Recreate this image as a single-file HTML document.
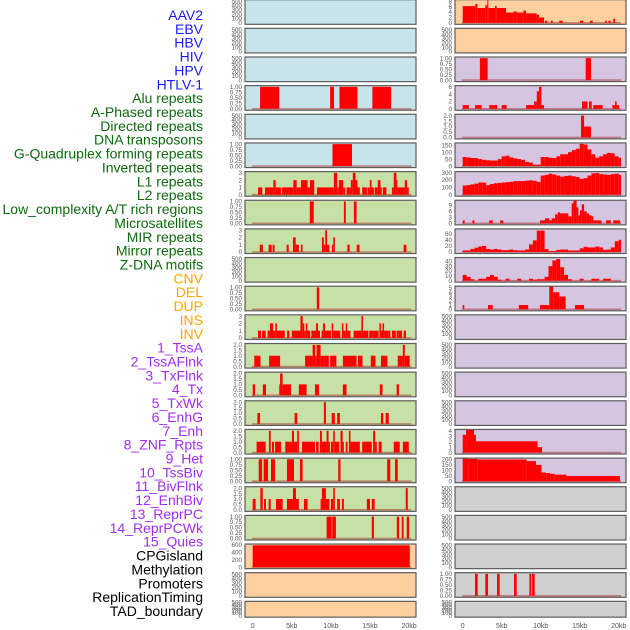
<!DOCTYPE html>
<html><head><meta charset="utf-8"><style>
html,body{margin:0;padding:0;background:#fff;}
svg{display:block;font-family:"Liberation Sans",sans-serif;}
</style></head><body>
<svg id="chart" width="630" height="630" viewBox="0 0 630 630" xmlns="http://www.w3.org/2000/svg"></svg>
<script>
// ---- labels ----
const labelNames = ["AAV2","EBV","HBV","HIV","HPV","HTLV-1","Alu repeats","A-Phased repeats","Directed repeats","DNA transposons","G-Quadruplex forming repeats","Inverted repeats","L1 repeats","L2 repeats","Low_complexity A/T rich regions","Microsatellites","MIR repeats","Mirror repeats","Z-DNA motifs","CNV","DEL","DUP","INS","INV","1_TssA","2_TssAFlnk","3_TxFlnk","4_Tx","5_TxWk","6_EnhG","7_Enh","8_ZNF_Rpts","9_Het","10_TssBiv","11_BivFlnk","12_EnhBiv","13_ReprPC","14_ReprPCWk","15_Quies","CPGisland","Methylation","Promoters","ReplicationTiming","TAD_boundary"];
const labelGroups = [6,13,5,15,5];
const groupColors = ["#1a1aff","#0b6b0b","#ffa500","#a12ef0","#000000"];
const xTickVals = [0,5,10,15,20];
const xTickLabels = ["0","5kb","10kb","15kb","20kb"];

// ---- left column data: [startKb, endKb, value] ----
const L3 = [[0.94,3.4,1],[9.9,10.4,1],[11.1,13.4,1],[15.3,17.7,1]];
const L5 = [[10.2,12.7,1]];
const L6 = [[0.68,1.23,1],[1.57,2.64,1],[2.64,2.94,2],[2.94,3.62,1],[3.74,5.19,1],[5.19,5.62,2],[5.62,6.17,1],[6.17,7.02,2],[7.02,7.32,1],[7.32,7.87,2],[8.21,10.38,1],[10.38,10.81,3],[10.81,11.02,1],[11.02,11.57,2],[11.57,11.83,1],[12.0,12.55,1],[12.55,12.8,2],[12.8,13.15,3],[13.15,13.4,2],[13.4,13.7,1],[14.0,14.6,1],[14.68,14.98,1],[14.98,15.2,2],[15.2,15.5,1],[15.6,16.0,1],[16.0,16.34,2],[16.34,16.5,1],[16.64,17.1,1],[17.8,18.04,1],[18.04,18.38,3],[18.38,18.5,2],[18.5,18.9,1],[18.9,19.45,1],[19.45,19.74,2],[19.74,19.96,1]];
const L7 = [[7.3,7.8,1],[11.66,11.9,1],[12.94,13.28,1]];
const L8 = [[0.9,1.3,1],[2.04,2.43,1],[2.55,2.8,1],[4.34,4.6,1],[5.15,5.5,2],[5.5,5.9,1],[6.17,6.38,1],[8.85,9.1,2],[9.1,9.28,1],[9.28,9.5,3],[9.5,9.8,1],[10.13,10.3,1],[10.3,10.5,2],[12.1,12.4,1],[13.3,13.66,1],[19.3,19.66,1]];
const L10 = [[8.2,8.5,1]];
const L11 = [[0.68,1.06,1],[1.2,1.66,1],[1.9,2.2,1],[2.2,2.6,2],[2.6,2.9,1],[2.9,3.1,2],[3.1,4.1,1],[4.4,4.7,1],[5.0,6.1,1],[6.1,6.4,3],[6.4,6.6,2],[6.6,6.8,1],[6.8,7.0,2],[7.0,7.35,1],[7.5,8.1,1],[8.1,8.35,2],[8.35,8.6,1],[8.8,9.0,1],[9.0,9.25,2],[9.25,10.0,1],[10.1,10.3,2],[10.3,11.2,1],[11.4,11.6,2],[11.6,11.9,1],[11.9,12.1,2],[12.1,12.5,1],[12.9,13.9,1],[13.9,14.1,3],[14.1,14.8,1],[14.9,15.3,1],[15.3,16.1,1],[16.2,16.4,2],[16.4,16.6,1],[16.6,16.8,2],[16.8,17.4,1],[17.4,17.6,1],[17.8,18.3,1],[18.4,18.6,1],[18.6,19.1,1],[19.3,19.6,1]];
const L12 = [[0.2,1.0,1],[2.1,3.5,1],[6.7,7.66,1],[7.66,8.0,2],[8.0,8.17,1],[8.17,8.68,2],[8.68,9.23,1],[9.23,9.74,1],[9.9,10.7,1],[11.53,13.28,1],[13.45,14.04,1],[15.1,15.7,1],[16.4,17.23,1],[18.55,19.2,1],[19.2,19.45,2],[19.45,20.08,1]];
const L13 = [[0,0.3,1],[1.3,1.7,1],[3.5,3.83,2],[3.4,3.5,1],[3.83,4.9,1],[5.9,6.9,1],[7.96,8.47,1],[11.53,12.0,1],[16.26,16.6,1],[18.4,18.7,1]];
const L14 = [[0.6,0.94,1],[5.36,5.7,1],[9.1,9.36,2],[10.1,10.5,1],[10.8,11.15,1],[16.4,16.7,1],[17.0,17.4,1]];
const L15 = [[0.5,1.66,1],[2.08,2.3,2],[2.47,2.72,1],[2.85,3.62,1],[4.17,5.02,1],[5.02,5.28,2],[5.28,5.7,1],[5.7,5.91,2],[6.3,7.96,1],[8.1,8.43,1],[8.6,8.85,2],[8.85,9.45,1],[9.45,9.7,2],[9.7,9.87,1],[10.0,10.3,1],[10.3,10.5,2],[10.5,11.06,1],[11.23,11.5,2],[11.5,11.66,1],[11.9,12.13,1],[12.3,12.5,2],[12.5,13.7,1],[14.0,15.23,1],[15.4,15.66,2],[15.66,15.87,1],[16.1,16.5,1],[18.04,18.8,1],[19.2,19.96,1]];
const L16 = [[0.77,1.2,1],[1.4,1.96,1],[2.34,2.85,1],[4.38,5.28,1],[6.04,6.38,1],[10.94,11.23,1],[17.2,17.6,1],[18.2,18.55,1]];
const L17 = [[0,0.38,1],[0.98,1.28,2],[1.45,1.7,1],[2.04,2.3,1],[2.98,3.83,1],[4.38,5.15,1],[5.15,5.53,2],[5.53,5.9,1],[6.55,7.02,1],[8.68,8.85,1],[8.85,9.36,2],[9.36,9.8,1],[10.0,10.3,1],[10.3,10.5,2],[10.8,11.15,1],[11.4,11.66,1],[14.6,15.0,1],[15.23,15.6,1],[19.57,19.83,2]];
const L18 = [[9.45,10.1,1],[10.17,10.64,1],[15.23,15.5,1],[18.43,18.72,1],[19.06,19.3,1],[19.7,20.0,1]];
const L19 = [[0,20.0,590],[20.0,20.08,580]];

// ---- right column data ----
const R0 = [[0,1.62,6.2],[1.62,1.88,7],[1.88,2.9,5.5],[2.9,3.16,6.5],[3.16,3.29,8.5],[3.29,4.15,5.5],[4.15,4.36,6.3],[4.36,5.56,5.5],[5.56,6.5,3.8],[6.5,6.92,4.2],[6.92,7.78,3.8],[7.78,8.12,4.5],[8.12,9.49,3.5],[9.49,9.79,3],[9.79,10.43,2],[10.56,10.85,0.8],[11.32,11.54,0.8],[12.39,12.82,0.8],[15.04,15.47,0.8],[16.32,16.67,0.8],[18.25,18.46,0.8],[18.68,18.97,0.8],[19.3,19.53,1.5]];
const R2 = [[2.2,3.2,1],[15.77,16.45,1]];
const R3 = [[0,0.8,1],[1.58,2.44,1],[3.4,4.44,1],[5.0,5.64,1],[8.12,9.15,1],[9.15,9.5,2],[9.5,9.79,4.8],[9.79,10.09,6],[10.09,10.43,1],[15.3,16.0,2],[16.2,16.54,2],[16.75,17.95,1],[19.19,19.53,1],[19.53,19.74,2],[19.74,20.04,1]];
const R4 = [[15.17,15.56,2],[15.56,16.45,1]];
// 0.5 kb bins
const R5 = [65,62,58,57,50,45,42,40,40,50,70,75,62,55,50,45,30,25,10,10,65,65,60,58,70,85,85,100,115,125,160,155,120,85,60,70,85,95,92,70,60];
const R6 = [125,130,140,150,165,165,130,145,155,160,165,170,175,185,185,185,190,195,190,175,260,270,285,275,260,245,255,260,250,240,215,225,260,290,295,280,275,270,280,285,270];
const R7 = [[0,0.25,1.5],[1.25,1.5,1.5],[3.4,3.85,1.5],[4.8,5.2,1.5],[9.91,10.55,1.5],[10.55,11.1,2.5],[11.1,11.4,1.5],[11.4,11.84,2.5],[11.84,12.18,4.5],[12.18,12.48,5.5],[12.48,13.55,5],[13.55,13.97,3.5],[13.97,14.19,10],[14.19,14.6,12],[14.6,14.83,8],[14.83,15.04,4],[15.04,15.26,6.5],[15.26,15.56,9.5],[15.56,15.9,6],[15.9,16.2,5],[16.2,16.54,4],[16.54,16.75,3.5],[16.75,17.8,1.5],[18.37,19.0,1.5],[19.3,20.16,1.5]];
const R8 = [5,5,10,14,18,20,10,8,10,8,6,6,8,6,5,5,8,25,38,70,70,10,3,3,7,8,8,5,5,5,12,17,15,15,18,15,7,8,15,35,40];
const R9 = [12,8,3,0,4,4,8,12,8,2,0,4,0,0,4,0,0,4,2,3,3,8,30,42,45,28,12,3,0,0,4,0,0,4,4,0,4,4,0,0,0];
const R10 = [[0,0.2,1],[3.25,3.85,1],[7.2,8.4,1],[9.9,11.1,1],[11.1,11.6,5.5],[11.6,12.4,4],[12.4,13.2,3],[14.4,15.56,1]];
const R15 = [[0,0.43,3.3],[0.43,1.45,4.2],[1.45,1.7,3.3],[1.7,9.6,2.1],[9.6,10.17,1]];
const R16 = [[0,0.73,210],[0.73,1.92,205],[1.92,8.2,200],[8.2,9.4,185],[9.4,10.1,150],[10.1,10.7,80],[10.7,11.2,75],[11.2,11.8,68],[11.8,13.3,60],[13.3,20.17,48]];
const R20 = [[1.58,1.92,1],[2.9,3.25,1],[4.4,4.74,1],[6.58,6.92,1],[8.55,8.8,1],[8.9,9.23,1]];

// ---- tick label sets ----
const T500 = ["0","100","200","300","400","500"], V500=[0,100,200,300,400,500];
const T1 = ["0.00","0.25","0.50","0.75","1.00"], V1=[0,0.25,0.5,0.75,1];
const T2 = ["0.0","0.5","1.0","1.5","2.0"], V2=[0,0.5,1,1.5,2];
const T3 = ["0","1","2","3"], V3=[0,1,2,3];

const BG = {blue:"#c8e4eb", green:"#c7e0a5", orange:"#fed0a0", purple:"#d6c5e1", gray:"#d0d0d0"};
const E = null;
// [data, bg, tickLabels, tickValues, dmax, isBins]
const leftPanels = [
 [E,"blue",T500,V500,520],[E,"blue",T500,V500,520],[E,"blue",T500,V500,520],
 [L3,"blue",T1,V1,1.03],[E,"blue",T500,V500,520],[L5,"blue",T1,V1,1.03],
 [L6,"green",T3,V3,3.1],[L7,"green",T1,V1,1.03],[L8,"green",T3,V3,3.1],[E,"green",T500,V500,520],
 [L10,"green",T1,V1,1.03],[L11,"green",T3,V3,3.1],[L12,"green",T2,V2,2.08],[L13,"green",T2,V2,2.08],
 [L14,"green",T2,V2,2.08],[L15,"green",T2,V2,2.08],[L16,"green",T1,V1,1.03],[L17,"green",T2,V2,2.08],
 [L18,"green",T1,V1,1.03],[L19,"orange",["0","200","400","600"],[0,200,400,600],610],
 [E,"orange",T500,V500,520],[E,"orange",T500,V500,520]
];
const rightPanels = [
 [R0,"orange",["0","2","4","6","8"],[0,2,4,6,8],8.4],[E,"orange",T500,V500,520],
 [R2,"purple",T1,V1,1.03],[R3,"purple",["0","2","4","6"],[0,2,4,6],6.2],[R4,"purple",T2,V2,2.08],
 [R5,"purple",["0","50","100","150"],[0,50,100,150],163,true],
 [R6,"purple",["0","100","200","300"],[0,100,200,300],307,true],
 [R7,"purple",["0","3","6","9"],[0,3,6,9],11.3],
 [R8,"purple",["0","20","40","60"],[0,20,40,60],74,true],
 [R9,"purple",["0","10","20","30","40"],[0,10,20,30,40],47,true],
 [R10,"purple",["0","1","2","3","4","5"],[0,1,2,3,4,5],5.3],
 [E,"purple",T500,V500,520],[E,"purple",T500,V500,520],[E,"purple",T500,V500,520],[E,"purple",T500,V500,520],
 [R15,"purple",["0","1","2","3","4"],[0,1,2,3,4],4.2],
 [R16,"purple",["0","50","100","150","200"],[0,50,100,150,200],208],
 [E,"gray",T500,V500,520],[E,"gray",T500,V500,520],[E,"gray",T500,V500,520],
 [R20,"gray",T1,V1,1.03],[E,"gray",T500,V500,520]
];

const NS = "http://www.w3.org/2000/svg";
const svg = document.getElementById("chart");
function mk(tag, attrs, parent){
  const el = document.createElementNS(NS, tag);
  for (const k in attrs) el.setAttribute(k, attrs[k]);
  (parent||svg).appendChild(el);
  return el;
}

// labels
let idx = 0;
labelGroups.forEach((n, g) => {
  for (let i = 0; i < n; i++) {
    const t = mk("text", {x:203, y:(20 + idx*13.86).toFixed(2), "text-anchor":"end", "font-size":"14", fill:groupColors[g]});
    
    
    t.textContent = labelNames[idx];
    idx++;
  }
});

const colDefs = [{x0:245, w:171, kb0:252.7, pxPerKb:7.82, panels:leftPanels, side:"left"},
                 {x0:455, w:171, kb0:462.7, pxPerKb:7.8, panels:rightPanels, side:"right"}];

colDefs.forEach(col => {
  const xs = kb => col.kb0 + kb*col.pxPerKb;
  col.panels.forEach((p, r) => {
    const [data, bg, tl, tv, dmax, isBins] = p;
    const top = r*28.65 - 0.3;
    const h = r === 21 ? 15.8 : 24.6;
    const bot = top + h;
    const ys = v => bot - 1.5 - (v/dmax)*(h - 2);
    const g = mk("g", {});
    
    
    const clipId = "c" + col.side + r;
    const cp = mk("clipPath", {id:clipId}, g);
    mk("rect", {x:col.x0, y:top, width:col.w, height:h}, cp);
    const bgr = mk("rect", {x:col.x0, y:top, width:col.w, height:h, fill:BG[bg]}, g);
    
    
    const marks = mk("g", {"clip-path":"url(#"+clipId+")"}, g);
    if (data) {
      const base = mk("line", {x1:xs(-0.1), x2:xs(20.3), y1:ys(0), y2:ys(0), stroke:"rgba(170,40,40,0.5)", "stroke-width":"1.6"}, marks);
      
      
      const segs = isBins ? data.map((v,i)=>[i*0.5, Math.min((i+1)*0.5, 20.3), v]) : data;
      segs.forEach(s => {
        if (s[2] <= 0) return;
        const x1 = xs(s[0]), x2 = xs(s[1]);
        const b = mk("rect", {x:x1.toFixed(2), y:ys(s[2]).toFixed(2), width:Math.max(x2-x1,0.8).toFixed(2), height:(ys(0)-ys(s[2])).toFixed(2), fill:"#ff0000"}, marks);
        
        
      });
    }
    const br = mk("rect", {x:col.x0, y:top, width:col.w, height:h, fill:"none", stroke:"#5c5c5c", "stroke-width":"1.2"}, g);
    
    
    tl.forEach((lab, i) => {
      const t = mk("text", {x:col.x0-3, y:(ys(tv[i])+2.2).toFixed(2), "text-anchor":"end", "font-size":"6.3", fill:"#555"}, g);
      
      
      t.textContent = lab;
    });
  });
  xTickVals.forEach((v, i) => {
    const t = mk("text", {x:xs(v), y:628, "text-anchor":"middle", "font-size":"7", fill:"#555"});
    
    
    t.textContent = xTickLabels[i];
  });
});
</script>
</body></html>
